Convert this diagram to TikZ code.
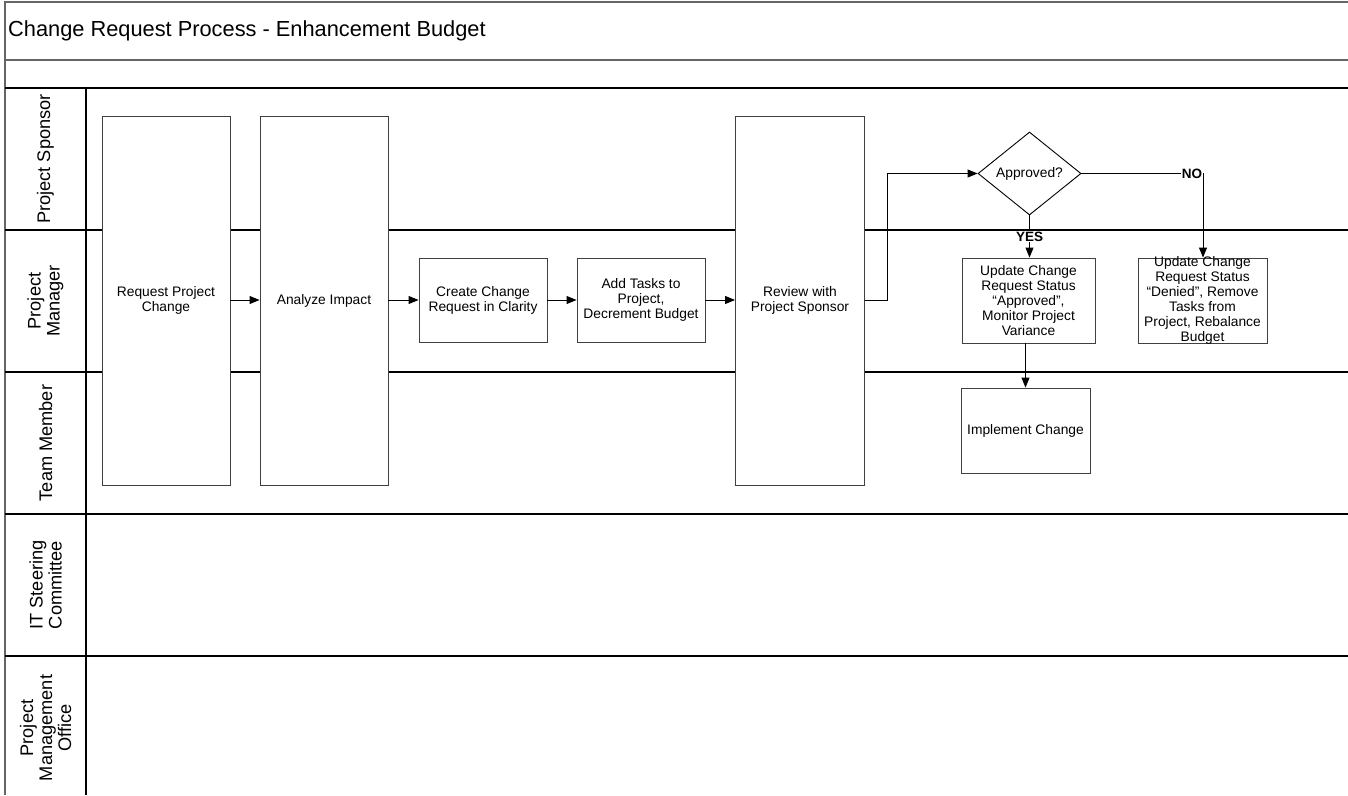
\documentclass[tikz,border=0pt]{standalone}
\usepackage{fontspec}
\setmainfont{Liberation Sans}
\usetikzlibrary{shapes.geometric,arrows.meta}
\begin{document}
\begin{tikzpicture}[x=1pt,y=-1pt,
  boxst/.style={draw=black!75,line width=0.9pt,fill=white,inner sep=2pt,align=center,font=\fontsize{13.8}{15}\selectfont},
  lanest/.style={draw=black,line width=1.2pt},
  bandst/.style={draw=black!60,line width=1.2pt},
  lanelbl/.style={rotate=90,align=center,font=\fontsize{18.2}{19}\selectfont},
  flow/.style={draw=black,line width=0.9pt,-{Triangle[length=10pt,width=8pt]}},
  ynlbl/.style={fill=white,inner sep=1pt,font=\bfseries\fontsize{13.5}{14}\selectfont}]
\useasboundingbox (0,0) rectangle (1348,795);
\fill[white] (0,0) rectangle (1348,795);
% frame and bands
\draw[bandst] (5,795) -- (5,2) -- (1348,2);
\draw[bandst] (5,60) -- (1348,60);
\draw[lanest] (5,88) -- (1348,88);
\foreach \yy in {230,372,514,656} \draw[lanest] (5,\yy) -- (1348,\yy);
\draw[lanest] (86,88) -- (86,795);
\node[anchor=west,inner sep=0,font=\fontsize{21.8}{24}\selectfont] (title) at (8,31) {Change Request Process - Enhancement Budget};
% lane labels
\node[lanelbl] (l1) at (45.5,159) {Project Sponsor};
\node[lanelbl] (l2) at (45.5,301) {Project\\Manager};
\node[lanelbl] (l3) at (45.5,443) {Team Member};
\node[lanelbl] (l4) at (45.5,585) {IT Steering\\Committee};
\node[lanelbl] (l5) at (45.5,728) {Project\\Management\\Office};
% boxes
\node[boxst,minimum width=128,minimum height=369] (req) at (166,300.5) {Request Project\\Change};
\node[boxst,minimum width=128,minimum height=369] (ana) at (324,300.5) {Analyze Impact};
\node[boxst,minimum width=128,minimum height=84] (cre) at (483,300) {Create Change\\Request in Clarity};
\node[boxst,minimum width=128,minimum height=84] (add) at (641,300) {Add Tasks to\\Project,\\Decrement Budget};
\node[boxst,minimum width=129,minimum height=369] (rev) at (800,300.5) {Review with\\Project Sponsor};
\node[draw=black,line width=0.9pt,fill=white,shape=diamond,inner sep=0,minimum width=103,minimum height=83,aspect=1.24,font=\fontsize{13.8}{15}\selectfont] (dec) at (1029.5,173.5) {Approved?};
\node[boxst,minimum width=133,minimum height=85] (upa) at (1028.5,300.5) {Update Change\\Request Status\\“Approved”,\\Monitor Project\\Variance};
\node[boxst,minimum width=129,minimum height=85] (upd) at (1202.5,300.5) {};
\node[align=center,inner sep=0,font=\fontsize{13.8}{15}\selectfont] (updt) at (upd.center) {Update Change\\Request Status\\“Denied”, Remove\\Tasks from\\Project, Rebalance\\Budget};
\node[boxst,minimum width=129,minimum height=85] (imp) at (1025.5,430.5) {Implement Change};
% connectors
\draw[flow] (req.east |- 0,300) -- (ana.west |- 0,300);
\draw[flow] (ana.east |- 0,300) -- (cre.west);
\draw[flow] (cre.east) -- (add.west);
\draw[flow] (add.east) -- (rev.west |- add.east);
\coordinate (c1) at (887,300);
\draw[flow] (rev.east |- c1) -- (c1) |- (dec.west);
\draw[flow] (dec.south) -- node[ynlbl,pos=0.5]{YES} (dec.south |- upa.north);
\coordinate (c2) at (1203,173.5);
\draw[flow] (dec.east) -- node[ynlbl,pos=0.91]{NO} (c2) -- (c2 |- upd.north);
\draw[flow] (upa.south -| imp.north) -- (imp.north);
\end{tikzpicture}
\end{document}
